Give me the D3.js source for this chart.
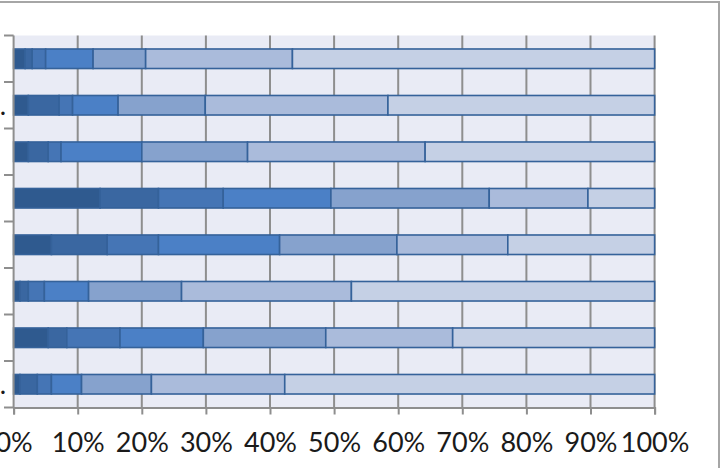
<!DOCTYPE html>
<html>
<head>
<meta charset="utf-8">
<script src="https://cdn.jsdelivr.net/npm/d3@7"></script>
<style>
  html, body { margin: 0; padding: 0; background: #ffffff; }
  svg { display: block; }
</style>
</head>
<body>
<svg id="chart" width="722" height="468"></svg>
<script>
// Categories, top to bottom
const categories = ["Row 1", "Row 2", "Row 3", "Row 4", "Row 5", "Row 6", "Row 7", "Row 8"];
// Visible (clipped) category label text
const rowLabels = ["", ".", "", "", "", "", "", "."];
// Series names, darkest to lightest
const seriesNames = ["S1", "S2", "S3", "S4", "S5", "S6", "S7"];
// Series values (percent share per row)
const s1 = [1.8, 2.3, 2.3, 13.5, 5.9, 1.0, 5.4, 1.0];
const s2 = [1.1, 4.8, 3.1, 9.1, 8.7, 1.3, 2.9, 2.7];
const s3 = [2.1, 2.1, 2.0, 10.1, 8.0, 2.5, 8.3, 2.2];
const s4 = [7.4, 7.1, 12.6, 16.8, 18.9, 6.9, 13.0, 4.7];
const s5 = [8.2, 13.6, 16.5, 24.7, 18.3, 14.5, 19.1, 10.9];
const s6 = [22.9, 28.5, 27.7, 15.4, 17.3, 26.5, 19.8, 20.8];
const s7 = [56.5, 41.6, 35.8, 10.4, 22.9, 47.3, 31.5, 57.7];
const xTicks = [0, 0.1, 0.2, 0.3, 0.4, 0.5, 0.6, 0.7, 0.8, 0.9, 1.0];

const seriesValues = [s1, s2, s3, s4, s5, s6, s7];
const colors = ["#2f5a8f", "#3a67a1", "#4575b5", "#4b80c6", "#86a2cd", "#aabbdb", "#c5d0e5"];

const table = categories.map((c, i) => {
  const row = { cat: c };
  seriesNames.forEach((s, j) => { row[s] = seriesValues[j][i]; });
  return row;
});

const stacked = d3.stack().keys(seriesNames).offset(d3.stackOffsetExpand)(table);

const svg = d3.select("#chart");
const plot = { left: 13.6, right: 654.6, top: 35.5, bottom: 407.5 };

const x = d3.scaleLinear().domain([0, 1]).range([plot.left, plot.right]);
const y = d3.scaleBand().domain(categories).range([plot.top, plot.bottom]).paddingInner(0.58).paddingOuter(0.29);
const yb = d3.scaleBand().domain(categories).range([plot.top, plot.bottom]);

// Outer chart frame (partially visible)
svg.append("rect")
  .attr("x", -10).attr("y", 2).attr("width", 729).attr("height", 480)
  .attr("fill", "#ffffff").attr("stroke", "#a6a6a6").attr("stroke-width", 2);

// Plot area background
svg.append("rect")
  .attr("x", plot.left).attr("y", plot.top)
  .attr("width", plot.right - plot.left).attr("height", plot.bottom - plot.top)
  .attr("fill", "#e9ebf5");

// Vertical gridlines
svg.append("g").selectAll("line").data(xTicks.slice(1)).join("line")
  .attr("x1", d => x(d)).attr("x2", d => x(d))
  .attr("y1", plot.top).attr("y2", plot.bottom)
  .attr("stroke", "#8e8e8e").attr("stroke-width", 2);

// Bars
const g = svg.append("g");
stacked.forEach((layer, j) => {
  g.append("g").selectAll("rect").data(layer).join("rect")
    .attr("x", d => x(d[0]))
    .attr("y", d => y(d.data.cat))
    .attr("width", d => x(d[1]) - x(d[0]))
    .attr("height", y.bandwidth())
    .attr("fill", colors[j])
    .attr("stroke", "#35629a")
    .attr("stroke-width", 1.6);
});

// X axis
const xAxis = d3.axisBottom(x).tickValues(xTicks).tickFormat(d3.format(".0%")).tickSize(7).tickPadding(18);
const xg = svg.append("g").attr("transform", `translate(0,${plot.bottom})`).call(xAxis);
xg.select(".domain").attr("stroke", "#8e8e8e").attr("stroke-width", 2);
xg.selectAll(".tick line").attr("stroke", "#8e8e8e").attr("stroke-width", 2);
xg.selectAll(".tick text")
  .attr("fill", "#1a1a1a")
  .style("font-family", "Lato, 'Open Sans', sans-serif")
  .style("font-size", "27px");

// Y axis (Excel-style ticks at band boundaries)
svg.append("line")
  .attr("x1", plot.left).attr("x2", plot.left)
  .attr("y1", plot.top).attr("y2", plot.bottom)
  .attr("stroke", "#8e8e8e").attr("stroke-width", 2);
const bounds = categories.map(c => yb(c)).concat([plot.bottom]);
svg.append("g").selectAll("line").data(bounds).join("line")
  .attr("x1", 4).attr("x2", plot.left)
  .attr("y1", d => d).attr("y2", d => d)
  .attr("stroke", "#8e8e8e").attr("stroke-width", 2);
svg.append("g").selectAll("text").data(categories).join("text")
  .attr("x", 6)
  .attr("y", d => yb(d) + yb.bandwidth() / 2)
  .attr("dy", "0.35em")
  .attr("text-anchor", "end")
  .attr("fill", "#1a1a1a")
  .style("font-family", "Lato, 'Open Sans', sans-serif")
  .style("font-size", "27px")
  .text((d, i) => rowLabels[i]);
</script>
</body>
</html>
